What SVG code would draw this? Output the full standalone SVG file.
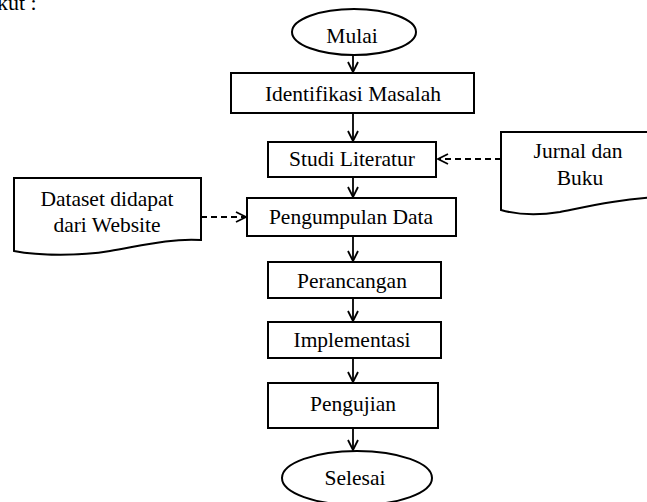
<svg xmlns="http://www.w3.org/2000/svg" width="647" height="502" viewBox="0 0 647 502">
<style>
.s{fill:#fff;stroke:#000;stroke-width:2}
.t{font-family:"Liberation Serif","Times New Roman",serif;font-size:21.5px;fill:#000;text-anchor:middle}
.c{stroke:#000;stroke-width:1.8;fill:none}
.d{stroke-dasharray:6 4}
</style>
<defs>
<marker id="a" viewBox="0 0 12 12" refX="11" refY="6" markerWidth="12" markerHeight="12" markerUnits="userSpaceOnUse" orient="auto">
<polyline points="1,1 11,6 1,11" fill="none" stroke="#000" stroke-width="1.8"/>
</marker>
</defs>
<rect width="647" height="502" fill="#fff"/>
<text x="-3" y="10" style="font-family:'Liberation Serif',serif;font-size:22px">kut :</text>
<g id="connectors">
<line class="c" x1="353" y1="55" x2="353" y2="72" marker-end="url(#a)"/>
<line class="c" x1="353" y1="113" x2="353" y2="141" marker-end="url(#a)"/>
<line class="c" x1="353" y1="177" x2="353" y2="197" marker-end="url(#a)"/>
<line class="c" x1="353" y1="236" x2="353" y2="261" marker-end="url(#a)"/>
<line class="c" x1="353" y1="298" x2="353" y2="321" marker-end="url(#a)"/>
<line class="c" x1="353" y1="358" x2="353" y2="382" marker-end="url(#a)"/>
<line class="c" x1="353" y1="428" x2="353" y2="450" marker-end="url(#a)"/>
<line class="c d" x1="501" y1="159" x2="438" y2="159" marker-end="url(#a)"/>
<line class="c d" x1="201" y1="217" x2="246" y2="217" marker-end="url(#a)"/>
</g>
<g id="mulai"><ellipse class="s" cx="354" cy="32" rx="62" ry="23"/><text class="t" x="352" y="43">Mulai</text></g>
<g id="identifikasi"><rect class="s" x="231" y="73" width="243" height="40"/><text class="t" x="353" y="101">Identifikasi Masalah</text></g>
<g id="studi"><rect class="s" x="268" y="142" width="168" height="35"/><text class="t" x="352" y="166">Studi Literatur</text></g>
<g id="pengumpulan"><rect class="s" x="247" y="198" width="209" height="38"/><text class="t" x="351" y="224">Pengumpulan Data</text></g>
<g id="perancangan"><rect class="s" x="268" y="262" width="173" height="36"/><text class="t" x="352" y="288">Perancangan</text></g>
<g id="implementasi"><rect class="s" x="268" y="322" width="173" height="36"/><text class="t" x="352" y="347">Implementasi</text></g>
<g id="pengujian"><rect class="s" x="268" y="383" width="170" height="45"/><text class="t" x="353" y="411">Pengujian</text></g>
<g id="selesai"><ellipse class="s" cx="357" cy="478" rx="75" ry="27"/><text class="t" x="355" y="485">Selesai</text></g>
<g id="jurnal"><path class="s" d="M501 132 H660 V197 C620 199 590 206 560 212 C535 216 515 214 501 210 Z"/><text class="t" x="578" y="158">Jurnal dan</text><text class="t" x="580" y="185">Buku</text></g>
<g id="dataset"><path class="s" d="M14 178 H201 V240 C170 238 140 246 110 251 C80 256 40 256 14 251 Z"/><text class="t" x="107" y="206">Dataset didapat</text><text class="t" x="107" y="232">dari Website</text></g>
</svg>
